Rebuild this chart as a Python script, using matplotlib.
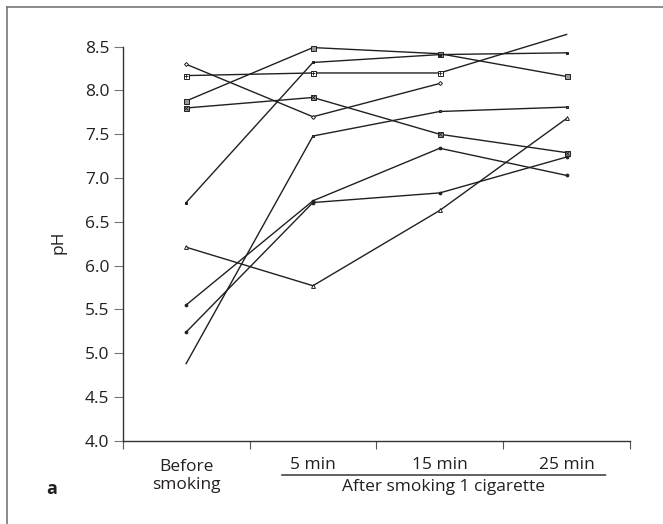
import numpy as np
import matplotlib
matplotlib.use("Agg")
import matplotlib.pyplot as plt
from matplotlib.lines import Line2D

plt.rcParams['font.family'] = ['Open Sans', 'DejaVu Sans']

categories = ["Before\nsmoking", "5 min", "15 min", "25 min"]
group_label = "After smoking 1 cigarette"
panel_label = "a"
y_label = "pH"
y_ticks = [4.0, 4.5, 5.0, 5.5, 6.0, 6.5, 7.0, 7.5, 8.0, 8.5]

s_diamond = [8.30, 7.70, 8.08, np.nan]
s_sqplus = [8.17, 8.20, 8.20, 8.64]
s_square = [7.88, 8.49, 8.42, 8.16]
s_sqx = [7.80, 7.92, 7.50, 7.29]
s_dash = [6.72, 8.32, 8.41, 8.43]
s_triangle = [6.21, 5.77, 6.63, 7.68]
s_dot_a = [5.55, 6.74, 7.34, 7.03]
s_dot_b = [5.24, 6.72, 6.83, 7.24]
s_small = [4.88, 7.48, 7.76, 7.81]

series = [
    (s_diamond, 'D', 2.0, 'white', None, [0, 1, 2]),
    (s_sqplus, 's', 3.6, 'white', '+', [0, 1, 2]),
    (s_square, 's', 3.6, '#999999', None, [0, 1, 2, 3]),
    (s_sqx, 's', 3.6, '#999999', 'x', [0, 1, 2, 3]),
    (s_dash, 's', 1.8, '#231f20', None, [0, 1, 2, 3]),
    (s_triangle, '^', 2.8, 'white', None, [0, 1, 2, 3]),
    (s_dot_a, 'o', 2.0, '#231f20', None, [0, 1, 2, 3]),
    (s_dot_b, 'o', 2.0, '#231f20', None, [0, 1, 2, 3]),
    (s_small, 's', 1.8, '#555555', None, [1, 2, 3]),
]

W, H = 663, 524
fig = plt.figure(figsize=(W / 100, H / 100), dpi=100)
ax = fig.add_axes([122.7 / W, 1 - 440.7 / H, (630 - 122.7) / W, (440.7 - 46.7) / H])

dark = '#231f20'
x = np.arange(len(categories))
for vals, mk, ms, mfc, overlay, every in series:
    v = np.array(vals, dtype=float)
    ax.plot(x, v, color=dark, lw=1.0, marker=mk, ms=ms, mfc=mfc, mec=dark,
            mew=0.7, markevery=every, clip_on=False, zorder=3)
    if overlay:
        ax.plot(x[every], v[every], ls='none', marker=overlay, ms=ms * 0.7, mec=dark,
                mew=0.6, clip_on=False, zorder=4)

fs = 12.5
ax.set_xlim(-0.5, 3.5)
ax.set_ylim(4.0, 8.5)
ax.set_yticks(y_ticks)
ax.set_yticklabels([f"{t:.1f}" for t in y_ticks])
ax.set_xticks([-0.5, 0.5, 1.5, 2.5, 3.5])
ax.set_xticklabels([])
for sp in ['top', 'right']:
    ax.spines[sp].set_visible(False)
for sp in ['left', 'bottom']:
    ax.spines[sp].set_color('#333333')
    ax.spines[sp].set_linewidth(1.0)
ax.tick_params(axis='y', length=6.5, width=0.8, color='#777777', labelsize=fs,
               labelcolor='#231f20', pad=3)
ax.tick_params(axis='x', length=6, width=0.8, color='#555555')

# category labels
for xi, lab in zip(x, categories):
    yoff = -35 if '\n' in lab else -24
    ax.annotate(lab, xy=(xi, 0), xycoords=('data', 'axes fraction'),
                xytext=(0, yoff), textcoords='offset pixels',
                ha='center', va='center', fontsize=fs, color='#231f20',
                linespacing=1.15)

ax.annotate('', xy=(605.7, H - 475), xycoords='figure pixels',
            xytext=(281.7, H - 475), textcoords='figure pixels',
            arrowprops=dict(arrowstyle='-', color='#231f20', lw=1.0,
                            shrinkA=0, shrinkB=0))
fig.text(444 / W, 1 - 487 / H, group_label, ha='center', va='center',
         fontsize=fs, color='#231f20')
fig.text(52 / W, 1 - 489 / H, panel_label, ha='center', va='center',
         fontsize=13, fontweight='bold', color='#231f20')
fig.text(58 / W, 1 - 242 / H, y_label, ha='center', va='center', rotation=90,
         fontsize=fs, color='#231f20')

# figure frame (left and top)
fig.add_artist(Line2D([7 / W, 7 / W], [0, 1 - 7 / H], transform=fig.transFigure,
                      color='#777777', lw=1.2))
fig.add_artist(Line2D([7 / W, 1], [1 - 7 / H, 1 - 7 / H], transform=fig.transFigure,
                      color='#777777', lw=1.2))

fig.savefig('out.png', dpi=100)
